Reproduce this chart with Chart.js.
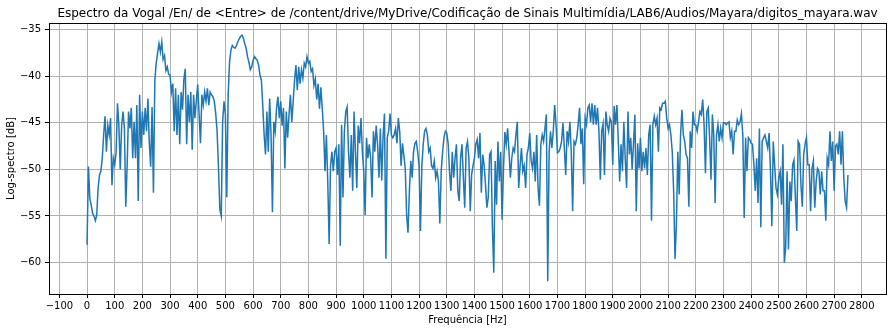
<!DOCTYPE html>
<html>
<head>
<meta charset="utf-8">
<script src="https://cdn.jsdelivr.net/npm/chart.js@4"></script>
<style>
html,body{margin:0;padding:0;background:#fff;}
canvas{display:block;}
</style>
</head>
<body>
<canvas id="c" width="893" height="333"></canvas>
<script>
const chartTitle = 'Espectro da Vogal /En/ de <Entre> de /content/drive/MyDrive/Codificação de Sinais Multimídia/LAB6/Audios/Mayara/digitos_mayara.wav';
const xLabel = 'Frequência [Hz]';
const yLabel = 'Log-spectro [dB]';

const freqsHz = [
0,5,10,15,20,25,30,35,40,45,50,55,60,65,70,75,80,85,90,95,
100,105,110,115,120,125,130,135,140,145,150,155,160,165,170,175,180,185,190,195,
200,205,210,215,220,225,230,235,240,245,250,255,260,265,270,275,280,285,290,295,
300,305,310,315,320,325,330,335,340,345,350,355,360,365,370,375,380,385,390,395,
400,405,410,415,420,425,430,435,440,445,450,455,460,465,470,475,480,485,490,495,
500,505,510,515,520,525,530,535,540,545,550,555,560,565,570,575,580,585,590,595,
600,605,610,615,620,625,630,635,640,645,650,655,660,665,670,675,680,685,690,695,
700,705,710,715,720,725,730,735,740,745,750,755,760,765,770,775,780,785,790,795,
800,805,810,815,820,825,830,835,840,845,850,855,860,865,870,875,880,885,890,895,
900,905,910,915,920,925,930,935,940,945,950,955,960,965,970,975,980,985,990,995,
1000,1005,1010,1015,1020,1025,1030,1035,1040,1045,1050,1055,1060,1065,1070,1075,1080,1085,1090,1095,
1100,1105,1110,1115,1120,1125,1130,1135,1140,1145,1150,1155,1160,1165,1170,1175,1180,1185,1190,1195,
1200,1205,1210,1215,1220,1225,1230,1235,1240,1245,1250,1255,1260,1265,1270,1275,1280,1285,1290,1295,
1300,1305,1310,1315,1320,1325,1330,1335,1340,1345,1350,1355,1360,1365,1370,1375,1380,1385,1390,1395,
1400,1405,1410,1415,1420,1425,1430,1435,1440,1445,1450,1455,1460,1465,1470,1475,1480,1485,1490,1495,
1500,1505,1510,1515,1520,1525,1530,1535,1540,1545,1550,1555,1560,1565,1570,1575,1580,1585,1590,1595,
1600,1605,1610,1615,1620,1625,1630,1635,1640,1645,1650,1655,1660,1665,1670,1675,1680,1685,1690,1695,
1700,1705,1710,1715,1720,1725,1730,1735,1740,1745,1750,1755,1760,1765,1770,1775,1780,1785,1790,1795,
1800,1805,1810,1815,1820,1825,1830,1835,1840,1845,1850,1855,1860,1865,1870,1875,1880,1885,1890,1895,
1900,1905,1910,1915,1920,1925,1930,1935,1940,1945,1950,1955,1960,1965,1970,1975,1980,1985,1990,1995,
2000,2005,2010,2015,2020,2025,2030,2035,2040,2045,2050,2055,2060,2065,2070,2075,2080,2085,2090,2095,
2100,2105,2110,2115,2120,2125,2130,2135,2140,2145,2150,2155,2160,2165,2170,2175,2180,2185,2190,2195,
2200,2205,2210,2215,2220,2225,2230,2235,2240,2245,2250,2255,2260,2265,2270,2275,2280,2285,2290,2295,
2300,2305,2310,2315,2320,2325,2330,2335,2340,2345,2350,2355,2360,2365,2370,2375,2380,2385,2390,2395,
2400,2405,2410,2415,2420,2425,2430,2435,2440,2445,2450,2455,2460,2465,2470,2475,2480,2485,2490,2495,
2500,2505,2510,2515,2520,2525,2530,2535,2540,2545,2550,2555,2560,2565,2570,2575,2580,2585,2590,2595,
2600,2605,2610,2615,2620,2625,2630,2635,2640,2645,2650,2655,2660,2665,2670,2675,2680,2685,2690,2695,
2700,2705,2710,2715,2720,2725,2730,2735,2740,2745,2750
];

const dB_0000_0445 = [
-58.1,-49.7,-53.1,-53.8,-54.7,-55.0,-55.5,-54.9,-52.0,-50.6,
-50.2,-48.8,-46.3,-44.3,-48.1,-45.3,-46.3,-44.5,-51.7,-48.8,
-49.5,-48.2,-42.9,-45.3,-50.0,-45.3,-43.8,-45.6,-54.0,-49.5,
-43.8,-45.6,-43.4,-48.8,-44.9,-48.8,-43.1,-53.4,-42.0,-47.7,
-43.8,-46.3,-43.4,-45.9,-42.4,-47.2,-49.7,-43.3,-52.5,-40.4,
-38.6,-37.5,-36.5,-37.4,-36.3,-38.2,-37.8,-39.4,-39.0,-39.8,
-39.9,-41.7,-40.8,-45.9,-41.3,-46.3,-42.0,-47.3,-41.7,-43.6,
-40.3,-39.2,-47.3,-42.0,-44.9,-41.7,-47.9,-42.0,-44.5,-42.6,
-40.9,-44.1,-47.2,-42.0,-43.1,-41.7,-42.7,-41.3,-43.1,-41.7
];
const dB_0450_0895 = [
-42.0,-42.2,-42.7,-44.0,-45.9,-49.8,-54.3,-55.0,-44.9,-42.7,
-44.1,-53.0,-42.0,-38.5,-37.2,-36.7,-36.9,-37.0,-36.7,-36.3,
-36.0,-35.7,-35.6,-35.9,-36.5,-37.0,-37.9,-38.5,-39.3,-39.0,
-38.3,-37.9,-38.1,-38.3,-38.8,-39.9,-40.4,-43.1,-46.3,-48.4,
-43.8,-48.1,-42.4,-46.3,-54.6,-44.9,-45.9,-43.4,-42.2,-44.5,
-42.7,-45.3,-43.4,-49.9,-43.8,-46.6,-44.1,-42.0,-44.9,-42.7,
-40.4,-38.8,-41.5,-39.0,-40.8,-39.3,-40.2,-38.6,-39.0,-37.9,
-38.6,-38.4,-39.5,-39.2,-41.0,-40.3,-42.5,-40.8,-43.5,-41.2,
-43.4,-45.9,-50.2,-46.3,-51.3,-58.0,-49.6,-48.1,-50.2,-48.1
];
const dB_0900_1345 = [
-47.7,-50.6,-47.3,-58.2,-45.2,-53.0,-45.9,-43.8,-43.3,-48.1,
-50.9,-46.3,-52.3,-43.8,-48.1,-52.0,-45.3,-47.2,-44.5,-48.1,
-50.2,-54.9,-46.6,-48.8,-47.3,-48.8,-53.0,-45.9,-48.1,-45.3,
-47.3,-50.9,-45.6,-51.2,-46.3,-44.0,-59.6,-46.6,-45.9,-44.0,
-46.3,-46.6,-46.3,-45.6,-47.2,-44.5,-45.9,-49.6,-47.2,-48.5,
-49.9,-54.9,-56.8,-52.3,-49.1,-50.9,-48.1,-47.2,-47.0,-48.1,
-49.6,-56.6,-49.6,-47.3,-45.9,-45.6,-46.3,-48.1,-47.7,-49.6,
-49.9,-49.1,-50.9,-50.2,-51.3,-55.8,-50.2,-48.1,-46.6,-45.9,
-46.1,-47.2,-50.2,-52.3,-48.1,-50.9,-48.8,-47.3,-52.3,-53.4
];
const dB_1350_1795 = [
-48.8,-47.3,-50.9,-54.1,-47.7,-47.0,-48.8,-54.5,-50.5,-49.6,
-48.8,-47.3,-46.8,-48.8,-46.1,-52.5,-48.4,-49.5,-51.6,-54.1,
-53.0,-48.4,-48.1,-56.2,-61.1,-49.1,-53.8,-47.0,-51.3,-48.1,
-55.4,-50.0,-46.0,-47.3,-45.6,-48.1,-50.9,-48.8,-47.7,-48.1,
-46.3,-44.9,-52.0,-49.6,-47.7,-50.2,-49.6,-52.0,-48.4,-47.7,
-46.1,-49.1,-49.9,-48.1,-51.3,-46.3,-52.0,-53.9,-47.3,-46.3,
-47.0,-45.6,-44.1,-62.0,-48.1,-45.9,-47.7,-45.9,-43.1,-45.2,
-48.2,-48.1,-47.7,-47.0,-45.0,-47.7,-50.6,-45.9,-47.0,-44.9,
-48.1,-54.5,-47.0,-47.3,-46.6,-45.2,-43.4,-47.3,-45.6,-51.6
];
const dB_1800_2245 = [
-44.5,-45.2,-43.4,-43.1,-44.9,-42.9,-45.2,-43.1,-45.2,-43.4,
-45.9,-51.1,-45.9,-45.1,-50.6,-43.8,-45.2,-45.9,-44.5,-44.9,
-49.5,-43.2,-45.2,-43.1,-47.0,-51.3,-47.3,-50.2,-44.9,-48.8,
-52.0,-43.8,-48.4,-46.6,-50.0,-47.2,-44.1,-54.5,-47.2,-49.9,
-46.6,-50.2,-48.1,-49.9,-47.7,-50.6,-46.3,-45.2,-55.5,-45.2,
-44.3,-45.2,-44.5,-48.1,-43.4,-43.6,-42.9,-42.9,-42.7,-44.5,
-45.6,-45.2,-46.3,-48.1,-52.3,-59.6,-55.9,-48.1,-52.7,-46.3,
-43.6,-46.3,-47.0,-48.4,-48.8,-54.0,-45.9,-47.7,-43.8,-45.2,
-45.2,-45.9,-44.9,-43.8,-44.1,-42.5,-45.2,-50.4,-43.8,-43.4
];
const dB_2250_2750 = [
-46.6,-51.1,-44.1,-46.3,-53.6,-46.3,-45.2,-47.0,-45.6,-46.6,
-45.0,-45.0,-45.2,-45.0,-44.9,-46.6,-45.9,-48.4,-45.9,-45.9,
-44.7,-45.2,-44.9,-44.0,-46.3,-55.2,-46.6,-50.2,-46.6,-46.8,
-47.2,-47.3,-49.5,-52.3,-48.8,-53.6,-45.6,-56.2,-47.0,-46.6,
-46.3,-47.0,-47.7,-46.1,-50.2,-56.1,-47.0,-49.5,-52.0,-52.7,
-50.9,-50.2,-53.8,-47.3,-60.0,-58.4,-50.2,-58.6,-51.3,-53.4,
-49.5,-49.0,-53.0,-56.6,-47.0,-47.3,-51.6,-54.0,-48.4,-47.3,
-46.6,-49.5,-49.5,-54.5,-49.9,-49.1,-54.1,-51.3,-49.9,-50.2,
-52.7,-50.2,-52.3,-52.3,-55.5,-48.8,-49.5,-45.9,-49.1,-47.0,
-52.3,-47.5,-47.3,-48.4,-45.9,-49.5,-45.9,-50.9,-53.4,-54.1,
-50.6
];

const xTicks = [-100,0,100,200,300,400,500,600,700,800,900,1000,1100,1200,1300,1400,1500,1600,1700,1800,1900,2000,2100,2200,2300,2400,2500,2600,2700,2800];
const yTicks = [-60,-55,-50,-45,-40,-35];

const logSpectrum = [].concat(dB_0000_0445, dB_0450_0895, dB_0900_1345, dB_1350_1795, dB_1800_2245, dB_2250_2750);
const points = freqsHz.map((f, i) => ({x: f, y: logSpectrum[i]}));

const fmt = v => (v < 0 ? '\u2212' + Math.abs(v) : String(v));
const FONT = 'DejaVu Sans';

const mplFrame = {
  id: 'mplFrame',
  afterDraw(chart) {
    const ctx = chart.ctx, a = chart.chartArea;
    ctx.save();
    ctx.strokeStyle = '#000';
    ctx.lineWidth = 1;
    ctx.strokeRect(Math.round(a.left) + 0.5, Math.round(a.top) + 0.5,
                   Math.round(a.right) - Math.round(a.left), Math.round(a.bottom) - Math.round(a.top));
    ctx.fillStyle = '#000';
    ctx.font = '12px "' + FONT + '"';
    ctx.textAlign = 'center';
    ctx.textBaseline = 'alphabetic';
    ctx.fillText(chartTitle, (a.left + a.right) / 2, 17);
    ctx.restore();
  }
};

new Chart(document.getElementById('c'), {
  type: 'line',
  data: {
    datasets: [{
      data: points,
      borderColor: '#1f77b4',
      borderWidth: 1.5,
      pointRadius: 0,
      fill: false,
      tension: 0
    }]
  },
  options: {
    responsive: false,
    animation: false,
    devicePixelRatio: 1,
    layout: {padding: {top: 23, right: 7, left: 0, bottom: 0}},
    plugins: {legend: {display: false}, tooltip: {enabled: false}, title: {display: false}},
    scales: {
      x: {
        type: 'linear',
        min: -137.5,
        max: 2887.5,
        afterFit: s => { s.height = 39; },
        afterBuildTicks: s => { s.ticks = xTicks.map(v => ({value: v})); },
        ticks: {autoSkip: false, maxRotation: 0, minRotation: 0, includeBounds: false,
                font: {family: FONT, size: 10}, color: '#000', padding: 2, callback: fmt},
        grid: {color: '#b0b0b0', lineWidth: 1, tickColor: '#000', tickLength: 4, drawTicks: true},
        border: {display: true, color: '#000', width: 1},
        title: {display: true, text: xLabel, color: '#000', font: {family: FONT, size: 10}, padding: {top: 0, bottom: 7}}
      },
      y: {
        type: 'linear',
        min: -63.37,
        max: -34.29,
        afterFit: s => { s.width = 49; },
        afterBuildTicks: s => { s.ticks = yTicks.map(v => ({value: v})); },
        ticks: {autoSkip: false, includeBounds: false,
                font: {family: FONT, size: 10}, color: '#000', padding: 4, callback: fmt},
        grid: {color: '#b0b0b0', lineWidth: 1, tickColor: '#000', tickLength: 4, drawTicks: true},
        border: {display: true, color: '#000', width: 1},
        title: {display: true, text: yLabel, color: '#000', font: {family: FONT, size: 10}, padding: {top: 5, bottom: 0}}
      }
    }
  },
  plugins: [mplFrame]
});
</script>
</body>
</html>
